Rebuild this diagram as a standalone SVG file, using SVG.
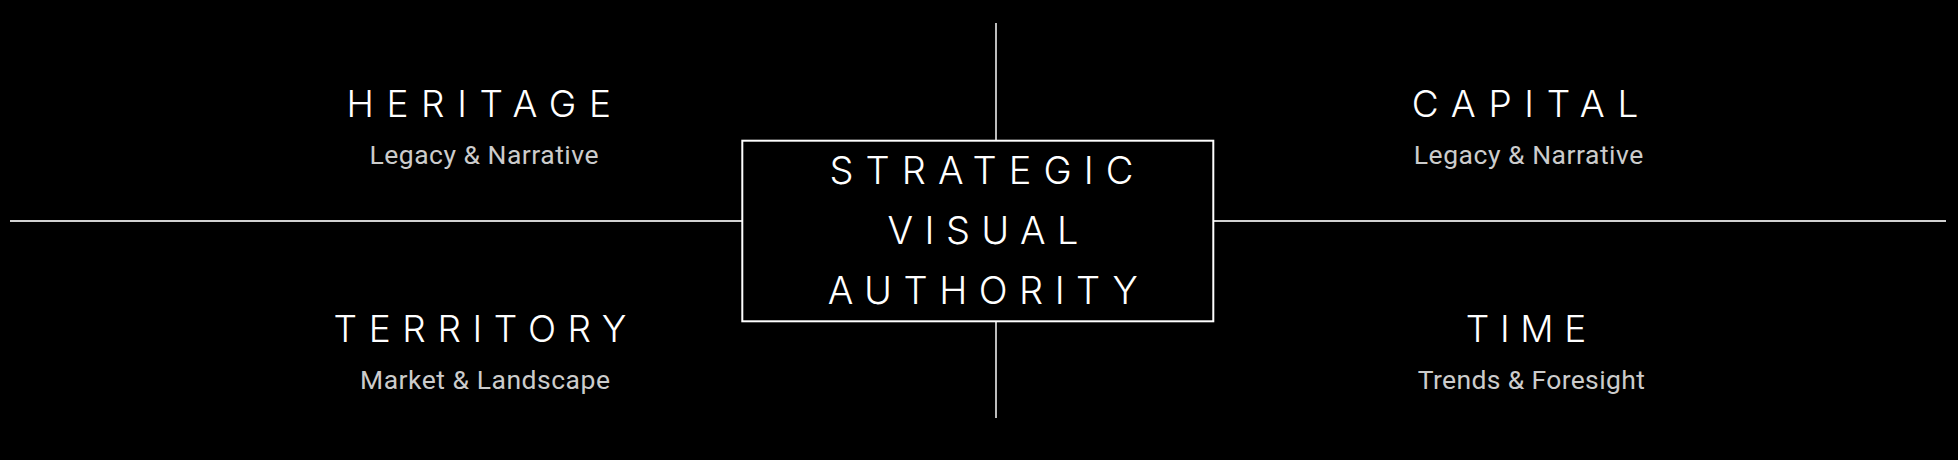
<svg xmlns="http://www.w3.org/2000/svg" width="1958" height="460" viewBox="0 0 1958 460">
<style>
.title{font-family:Inter,"Lato","Liberation Sans",sans-serif;font-weight:300;font-size:37px;fill:#ffffff}
.center{font-family:Inter,"Lato","Liberation Sans",sans-serif;font-weight:300;font-size:38px;fill:#ffffff}
.sub{font-family:Roboto,"Open Sans","Liberation Sans",sans-serif;font-weight:400;font-size:26.5px;fill:#cccccc}
.line{stroke:#d2d2d2;stroke-width:1.8;fill:none}
</style>
<rect x="0" y="0" width="1958" height="460" fill="#000000"/>
<g id="connectors">
<line class="line" x1="10" y1="221" x2="742" y2="221"/>
<line class="line" x1="1214" y1="221" x2="1946" y2="221"/>
<line class="line" x1="996" y1="23" x2="996" y2="140"/>
<line class="line" x1="996" y1="322" x2="996" y2="418"/>
</g>
<g id="node-center">
<rect x="742.3" y="140.7" width="471" height="180.6" fill="#000000" stroke="#ffffff" stroke-width="2"/>
<text class="center" x="829.5" y="184" textLength="304" lengthAdjust="spacing">STRATEGIC</text>
<text class="center" x="887.5" y="244" textLength="191" lengthAdjust="spacing">VISUAL</text>
<text class="center" x="827.8" y="304" textLength="310" lengthAdjust="spacing">AUTHORITY</text>
</g>
<g id="node-heritage">
<text class="title" x="346.5" y="117.3" textLength="264.5" lengthAdjust="spacing">HERITAGE</text>
<text class="sub" x="369.5" y="163.5" textLength="229" lengthAdjust="spacing">Legacy &amp; Narrative</text>
</g>
<g id="node-capital">
<text class="title" x="1411.8" y="117.3" textLength="226.5" lengthAdjust="spacing">CAPITAL</text>
<text class="sub" x="1413.8" y="163.5" textLength="229.5" lengthAdjust="spacing">Legacy &amp; Narrative</text>
</g>
<g id="node-territory">
<text class="title" x="333.5" y="342.3" textLength="293" lengthAdjust="spacing">TERRITORY</text>
<text class="sub" x="360" y="388.8" textLength="250" lengthAdjust="spacing">Market &amp; Landscape</text>
</g>
<g id="node-time">
<text class="title" x="1465.8" y="342.3" textLength="120.5" lengthAdjust="spacing">TIME</text>
<text class="sub" x="1417.8" y="388.5" textLength="227" lengthAdjust="spacing">Trends &amp; Foresight</text>
</g>
</svg>
